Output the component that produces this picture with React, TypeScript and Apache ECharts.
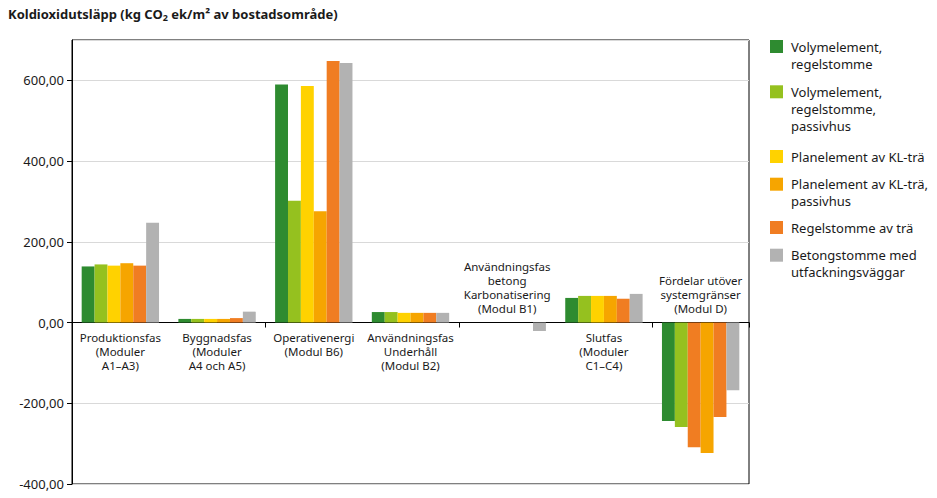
import React, { useEffect, useRef } from "react";
import * as echarts from "echarts";

const FONT = "'Noto Sans', sans-serif";

const categories = [
  "Produktionsfas\n(Moduler\nA1–A3)",
  "Byggnadsfas\n(Moduler\nA4 och A5)",
  "Operativenergi\n(Modul B6)",
  "Användningsfas\nUnderhåll\n(Modul B2)",
  "Användningsfas\nbetong\nKarbonatisering\n(Modul B1)",
  "Slutfas\n(Moduler\nC1–C4)",
  "Fördelar utöver\nsystemgränser\n(Modul D)",
];
// categories whose label sits above the zero line
const aboveAxisCategories = [4, 6];

const seriesNames = [
  "Volymelement, regelstomme",
  "Volymelement, regelstomme, passivhus",
  "Planelement av KL-trä",
  "Planelement av KL-trä, passivhus",
  "Regelstomme av trä",
  "Betongstomme med utfackningsväggar",
];
const legendLabels = [
  "Volymelement,\nregelstomme",
  "Volymelement,\nregelstomme,\npassivhus",
  "Planelement av KL-trä",
  "Planelement av KL-trä,\npassivhus",
  "Regelstomme av trä",
  "Betongstomme med\nutfackningsväggar",
];

const volymRegel = [139, 9, 590, 26, 0, 61, -244];
const volymRegelPassiv = [144, 9, 302, 26, 0, 66, -259];
const planKL = [141, 9, 586, 24, 0, 66, -309];
const planKLPassiv = [147, 9, 276, 24, 0, 66, -323];
const regelTra = [141, 11, 648, 24, 0, 59, -234];
const betong = [247, 27, 643, 24, -21, 71, -168];
const seriesValues = [volymRegel, volymRegelPassiv, planKL, planKLPassiv, regelTra, betong];

const colors = ["#2E8B30", "#95C11F", "#FFD200", "#F6A500", "#F07D22", "#B2B2B2"];
// In the reference, the KL-trä bar of Modul D is drawn in the Regelstomme colour
const colorOverrides: { series: number; index: number; color: string }[] = [
  { series: 2, index: 6, color: "#F07D22" },
];

const yMin = -400;
const yMax = 700;
const yInterval = 200;

const legendIconTops = [39, 84.3, 149, 176.7, 220, 247.7];
const LEG_LH = 17;

export default function App() {
  const ref = useRef<HTMLDivElement>(null);
  useEffect(() => {
    document.body.style.margin = "0";
    const chart = echarts.init(ref.current!, null, { renderer: "svg" });

    const series = seriesNames.map((name, si) => ({
      name,
      type: "bar",
      barGap: "0%",
      barCategoryGap: "20%",
      itemStyle: { color: colors[si] },
      data: seriesValues[si].map((v, ci) => {
        const o = colorOverrides.find((c) => c.series === si && c.index === ci);
        return o ? { value: v, itemStyle: { color: o.color } } : v;
      }),
    }));

    const legends = seriesNames.map((name, i) => {
      const lines = legendLabels[i].split("\n").length;
      // blank lines on top so that the icon lines up with the first text line
      const padded = "\n".repeat(lines - 1) + legendLabels[i];
      const total = 2 * lines - 1;
      const iconCenter = legendIconTops[i] + 6.5;
      return {
        data: [name],
        orient: "vertical",
        left: 770,
        top: iconCenter - (total * LEG_LH) / 2 + 1,
        padding: 0,
        itemWidth: 13,
        itemHeight: 13,
        icon: "rect",
        formatter: () => padded,
        textStyle: {
          fontSize: 13,
          lineHeight: LEG_LH,
          padding: [0, 0, 0, 3],
          color: "#1a1a1a",
          fontFamily: FONT,
        },
      };
    });

    const option: any = {
      animation: false,
      color: colors,
      title: {
        text: "{a|Koldioxidutsläpp (kg CO}{s|2}{a| ek/m² av bostadsområde)}",
        left: 8,
        top: 6,
        padding: 0,
        textStyle: {
          rich: {
            a: { fontSize: 13, fontWeight: "bold", fontFamily: FONT, color: "#1a1a1a" },
            s: { fontSize: 9, fontWeight: "bold", fontFamily: FONT, color: "#1a1a1a", padding: [7, 0, 0, 0] },
          },
        },
      },
      legend: legends,
      grid: {
        left: 72,
        right: 188,
        top: 40,
        bottom: 14,
        show: true,
        borderColor: "#000",
        borderWidth: 1,
        outerBoundsMode: "none",
      },
      xAxis: {
        type: "category",
        data: categories,
        axisLine: { onZero: true, lineStyle: { color: "#000", width: 1 } },
        axisTick: { show: true, length: 5, lineStyle: { color: "#000" } },
        axisLabel: { show: false },
      },
      yAxis: {
        type: "value",
        min: yMin,
        max: yMax,
        interval: yInterval,
        axisLine: { show: true, lineStyle: { color: "#000", width: 1 } },
        axisTick: { show: true, length: 5, lineStyle: { color: "#000" } },
        splitLine: { show: true, lineStyle: { color: "#d9d9d9", width: 1 } },
        axisLabel: {
          showMaxLabel: false,
          margin: 8,
          fontSize: 13,
          color: "#1a1a1a",
          fontFamily: FONT,
          formatter: (v: number) => v.toFixed(2).replace(".", ","),
        },
      },
      series,
    };
    chart.setOption(option);

    // category labels sit at the zero line (below it, or above it for negative-only groups)
    const y0 = chart.convertToPixel({ yAxisIndex: 0 }, 0) as number;
    const graphic = categories.map((cat, ci) => {
      const x = chart.convertToPixel({ xAxisIndex: 0 }, cat) as number;
      const above = aboveAxisCategories.includes(ci);
      return {
        type: "text",
        x,
        y: above ? y0 - 7 : y0 + 8,
        style: {
          text: cat,
          align: "center",
          verticalAlign: above ? "bottom" : "top",
          fontSize: 11.5,
          lineHeight: 14,
          fontFamily: FONT,
          fill: "#1a1a1a",
        },
      };
    });
    chart.setOption({ graphic });

    return () => chart.dispose();
  }, []);
  return <div ref={ref} style={{ width: 937, height: 498 }} />;
}
